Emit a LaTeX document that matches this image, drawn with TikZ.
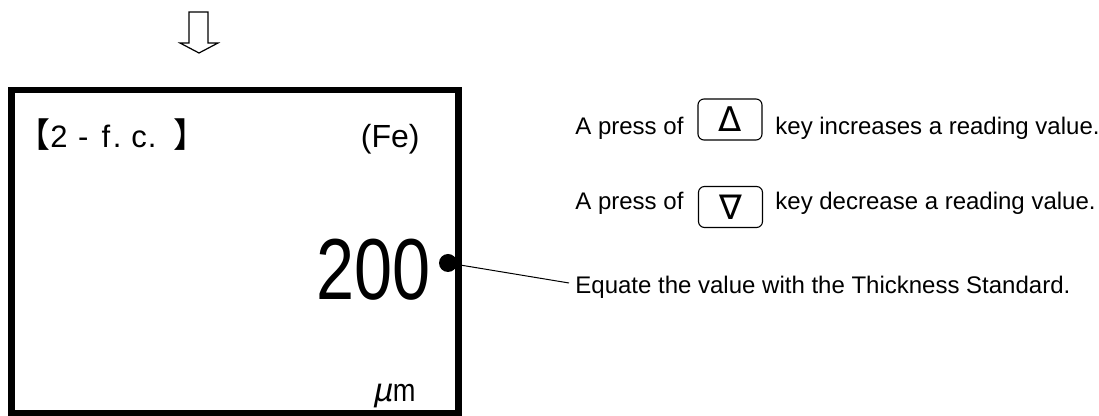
\documentclass[tikz,border=0pt]{standalone}
\usepackage{fontspec}
\setmainfont{Liberation Sans}
\newfontfamily\cjk{Noto Sans CJK JP}
\newfontfamily\cjkslant[FakeSlant=0.2]{Noto Sans CJK JP}
\newfontfamily\lcdbig[FakeStretch=0.79]{Liberation Sans}
\newfontfamily\lcdsmall[FakeStretch=0.85]{Liberation Sans}
\newfontfamily\symfont{DejaVu Sans}
\begin{document}
\begin{tikzpicture}[x=0.5pt,y=-0.5pt]
\useasboundingbox (0,0) rectangle (1099,416);
\tikzset{
  lcdframe/.style={draw, line width=3.2pt, inner sep=0pt, minimum width=223.5pt, minimum height=161.5pt},
  keybox/.style={draw, line width=0.55pt, rounded corners=3pt, minimum width=32pt, minimum height=20.5pt, inner sep=0pt},
  desc/.style={anchor=base west, inner sep=0pt, font=\fontsize{12pt}{14pt}\selectfont},
  lcdtext/.style={inner sep=0pt},
  hollowarrow/.style={draw, line width=0.6pt, line join=miter},
  leader/.style={draw, line width=0.5pt},
  marker/.style={circle, fill, inner sep=0pt, minimum size=9pt},
}
% hollow down arrow
\draw[hollowarrow] (189,12) -- (208,12) -- (208,43) -- (218,43) -- (199,53) -- (180,43) -- (189,43) -- cycle;
% display frame
\node[lcdframe] (lcd) at (235,251.5) {};
% display texts
\node[lcdtext, anchor=base west, font=\fontsize{15.5pt}{18pt}\selectfont] (mode) at (16,148)
  {{\cjk\fontsize{17pt}{18pt}\selectfont 【}2\hspace{5.2pt}-\hspace{6.7pt}f\hspace{1.2pt}.\hspace{5pt}c\hspace{0.5pt}.\hspace{8.3pt}{\cjk\fontsize{17pt}{18pt}\selectfont 】}};
\node[lcdtext, anchor=base east, font=\fontsize{16pt}{18pt}\selectfont] (fe) at (420,148) {(Fe)};
\node[lcdtext, anchor=base east, font=\fontsize{43.3pt}{50pt}\lcdbig] (val) at (431,300) {200};
\node[marker] (dot) at (448,263) {};
\node[lcdtext, anchor=base east, font=\fontsize{16pt}{19pt}\selectfont] (unit) at (416,402) {\cjkslant μ\lcdsmall m};
% explanations
\node[desc] (p1) at (575,135) {A press of};
\node[keybox] (k1) at (730,119.5) {\fontsize{17pt}{18pt}\symfont Δ};
\node[desc] (t1) at (775,135) {key increases a reading value.};
\node[desc] (p2) at (575,210) {A press of};
\node[keybox] (k2) at (730.5,207) {\fontsize{17pt}{18pt}\symfont ∇};
\node[desc] (t2) at (775,210) {key decrease a reading value.};
\node[desc] (t3) at (575,294) {Equate the value with the Thickness Standard.};
\coordinate (lead) at (569,283);
\draw[leader] (dot) -- (lead);
\end{tikzpicture}
\end{document}
